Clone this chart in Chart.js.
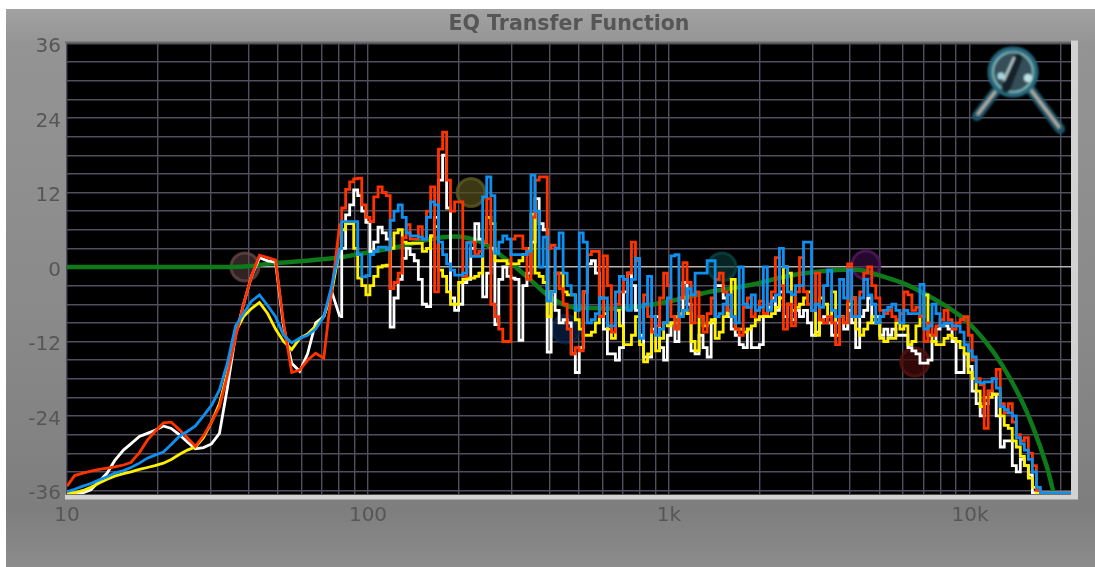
<!DOCTYPE html>
<html>
<head>
<meta charset="utf-8">
<title>EQ Transfer Function</title>
<script src="https://cdn.jsdelivr.net/npm/chart.js@4"></script>
<style>
  html, body { margin: 0; padding: 0; background: #fff; overflow: hidden; }
  #wrap { position: relative; width: 1095px; height: 567px; }
  #panel { position: absolute; left: 6px; top: 9px; right: 0; bottom: 0;
    background: linear-gradient(#a2a2a2 0, #949494 35px, #8a8a8a 300px, #7e7e7e 500px, #8c8c8c 100%); }
  #c { position: absolute; left: 0; top: 0; filter: blur(0.6px); }
  #lens { position: absolute; left: 960px; top: 40px; }
</style>
</head>
<body>
<div id="wrap">
  <div id="panel"></div>
  <canvas id="c" width="1095" height="567"></canvas>
  <svg id="lens" width="120" height="105" viewBox="960 40 120 105">
    <defs><filter id="soft"><feGaussianBlur stdDeviation="1.3"/></filter></defs>
    <g filter="url(#soft)" fill="none" stroke-linecap="round">
      <path d="M995 92 L977 116 M1031 90 L1060 129" stroke="#1f5468" stroke-width="10"/>
      <path d="M995 92 L978 114 M1031 90 L1059 127" stroke="#b0ada3" stroke-width="3"/>
      <circle cx="1013" cy="72" r="23" stroke="#26677e" stroke-width="5"/>
      <circle cx="1013" cy="72" r="20" fill="#35505a" stroke="#8ec6c6" stroke-width="1.6"/>
      <path d="M1006 88 L1018 58" stroke="#16242a" stroke-width="9"/>
      <path d="M1004 80 L1014 58" stroke="#bcd0d2" stroke-width="2.2"/>
      <circle cx="1028" cy="78" r="4" fill="#bfe4e6" stroke="none"/>
      <circle cx="1001" cy="76" r="3.5" fill="#a8d6dc" stroke="none"/>
    </g>
  </svg>
</div>
<script>
const hz = [
  10, 10.6, 11.3, 12, 12.8, 13.6, 14.4, 15.4, 16.3, 17.4,
  18.5, 19.6, 20.9, 22.2, 23.6, 25.1, 26.7, 28.4, 30.2, 32.1,
  34.1, 36.3, 38.6, 41, 43.6, 46.4, 49.3, 52.4, 55.8, 59.3,
  63, 67, 71.3, 75.8, 80.6,
  83, 85.6, 88.3, 91, 93.9, 96.8, 100, 103, 106, 110,
  113, 117, 120, 124, 128, 132, 136, 140, 145, 149,
  154, 159, 164, 169, 174, 180, 185, 191, 197, 203,
  210, 216, 223, 230, 237, 244, 252, 260, 268, 276,
  285, 294, 303, 313, 322, 332, 343, 353, 365, 376,
  388, 400, 412, 425, 438, 452, 466, 481, 496, 511,
  527, 544, 561, 578, 596, 615, 634, 654, 674, 695,
  717, 739, 762, 786, 811, 836, 862, 889, 917, 945,
  975, 1000, 1031, 1063, 1096, 1131, 1166, 1202, 1240, 1278,
  1318, 1360, 1402, 1446, 1491, 1537, 1585, 1635, 1686, 1738,
  1793, 1849, 1906, 1966, 2027, 2090, 2155, 2223, 2292, 2363,
  2437, 2513, 2592, 2672, 2756, 2842, 2930, 3022, 3116, 3213,
  3313, 3417, 3523, 3633, 3746, 3863, 3984, 4108, 4236, 4369,
  4505, 4645, 4790, 4940, 5094, 5253, 5417, 5586, 5760, 5940,
  6125, 6316, 6513, 6716, 6926, 7142, 7365, 7594, 7831, 8075,
  8327, 8587, 8855, 9131, 9416, 9709, 10012, 10324, 10646, 10979,
  11321, 11674, 12038, 12414, 12801, 13200, 13612, 14037, 14475, 14926,
  15392, 15872, 16367, 16878,
  17400, 21660
];

const redDb = [
  -35.3, -33.6, -33.2, -32.9, -32.6, -32.4, -32.2, -31.9, -31.5, -29.9,
  -27.9, -26.5, -25.1, -25, -26.2, -27.5, -28.9, -27.2, -25, -22.5,
  -17.5, -11.3, -6, -1.5, 1.9, 1.5, 1.1, -9, -17, -16.6,
  -15, -13.9, -14.7, -3.7, 7,
  9.5, 12.5, 13.7, 14.2, 14.3, 10, 8, 7.3, 11.3, 12.9,
  12, 11.5, -3.5, -2.5, -1, 4.7, 6.8, 4.5, 4.5, 6.5,
  4.5, 9, 12.9, -4, 19, 21.7, 14, 9, 10.5, 10.5,
  -1.5, 4, 4, 2, 2.5, 4, 11, -6, -8, -10,
  -12, -12, 4.5, 5, 5, 3, -2, 8, 14, 14.5,
  14.5, 3, 3.5, -1, -3.5, -6, -10, -14, -13, -13.5,
  -4, 2, 2.5, 2.5, -8, 1.8, -3, -10.5, -6, -4,
  -2, -1, 4, 1, -9, -4.5, -8, -10.5, -9.5, -5,
  -1, -3, -8, -10, -5, 0.7, -2.5, -9, -4, -8,
  -10.5, -7.5, -5, -2, -1, -4, -7, -8, -10, -11,
  -6.5, -5, -8, -7, -5.5, -7.5, -6, -4, 1.5, -3,
  -10, -6, -9.5, -4, 1.5, -4, -6, -7, -1, -8.5,
  -9, -8, -9, -12.5, -8, -9, 0.5, -5, -8, -4,
  -1, 0, -3, -5, -7, -7.5, -7, -8, -8.5, -7.5,
  -4, -4.5, -7, -6.5, -8, -12, -9, -11, -9.5, -8.5,
  -7, -8.5, -10, -9, -8.5, -8, -11, -15, -18, -19,
  -26, -20, -18, -16.5, -22, -23.5, -22, -25, -27, -28,
  -27.5, -30, -32, -36,
  -36.4, -36.4
];

const whiteDb = [
  -36.4, -36.4, -36.4, -35.9, -34.5, -33.2, -31.2, -29.5, -28.5, -27.3,
  -26.8, -26.3, -25.6, -26, -27, -28.2, -29.3, -29.1, -28.5, -26.8,
  -19.5, -11, -6, -1.5, 1.5, 1, 0.8, -9.5, -15.5, -16.8,
  -14, -9, -8, -4, -8,
  3, 8.4, 10, 12.4, 11.5, 9, 7.2, 2.5, 4, 6.4,
  5.5, 4.5, -9.7, -5, -2, 1.4, 3, 2, 1, -2,
  -6, -6.4, 5, 8, 14, 18, 9.5, -5, -7, -6,
  -2.5, -2, 3, 7, 4.5, -4.8, -1, 3, -9.3, -2,
  0, -1.5, -1.8, -2, -11.8, -3, -1, 4, 11, 7,
  6, -13.7, -4, -7, -9, -8.5, -9, -14, -17, -13,
  -4, 0.5, 1, -1, -5, -10, -14, -14, -15, -13,
  -4, -1, -3, -7, -11, -14.5, -14.5, -10, -8, -13,
  -15, -11, -9, -12, -8, -2.5, -6, -13.5, -14, -11,
  -13, -14.5, -9, -3, -3, -5, -8, -10, -11, -12.5,
  -13, -10, -13, -13, -12.5, -8, -6.5, -5, -7, -4,
  -8, -6, -8.5, -7, -8, -7, -9, -11, -10.5, -9,
  -8, -9, -11, -9, -8, -10, -7, -9, -13, -8,
  -7, -5, -9, -8, -11, -10, -11, -10, -11, -11,
  -11, -13, -13.5, -14, -15.5, -15.5, -15, -12, -10, -9.5,
  -9.5, -10, -12, -17, -17, -14, -16, -20, -22, -24,
  -22, -20, -20.5, -24, -29, -28, -28, -32, -33, -31,
  -32, -33.5, -36.4, -36.4,
  -36.4, -36.4
];

const yellowDb = [
  -36.4, -36.4, -36, -35.5, -34.8, -34.2, -33.7, -33.3, -33, -32.6,
  -32.3, -32, -31.6, -31, -30.2, -29.5, -29, -27.5, -25, -22,
  -17, -10.5, -8, -6.7, -5.7, -7.5, -10, -12, -13.3, -11.5,
  -10.8, -9.5, -8, -4, 3,
  6, 7, 7, 3, -1.8, -3, -4.5, -3, -1.5, 0,
  0.2, 0.3, 3, 5.5, 6, 4, 3.8, 3.8, 3.8, 3.8,
  2.5, 3, 5, 6.5, -0.5, -1.5, -4, -6, -6, -2.5,
  -2, -1.8, -1.8, -1.5, -1, 4, 8, 7, 1, 1,
  1, 0.5, 0.5, 0.5, 1, 2, 3, 8.5, -1, -1.5,
  -2.5, -8, -4, -1, -1, -4, -4.5, -4.5, -8.5, -10,
  -11, -11, -10.5, -9, -8, -7.5, -10, -11.5, -7, -9.5,
  -12.5, -12.5, -11, -8, -12.5, -15.3, -14, -10.5, -13.5, -11.5,
  -9, -9.5, -9, -8, -7.5, -7, -7.5, -12, -13.5, -8,
  -9.5, -9, -8.5, -11.5, -10.5, -8, -7.5, -2, -10, -10,
  -10.5, -10, -9.5, -8.5, -8, -8, -8, -7.5, -6.5, -5,
  0, -1, -7, -6.5, -6, -5, -4, -7, -11, -5,
  -6, -8, -4, -11, -8, -9, -6, -5, -10, -11,
  -10, -9, -8, -9, -11.5, -12, -11.5, -11.5, -9, -10,
  -9.5, -12.5, -12, -9.5, -8, -4.5, -11, -12, -12.5, -12.5,
  -11.5, -11, -11.5, -12, -13, -14, -17, -18, -20, -22.5,
  -21, -21, -20.5, -20.5, -24, -25.5, -26, -28, -29, -30.5,
  -32, -34, -35.5, -36.4,
  -36.4, -36.4
];

const blueDb = [
  -36.2, -35.8, -35.3, -34.9, -34.3, -33.8, -33.2, -32.8, -32.3, -31.6,
  -30.8, -30.3, -29.8, -28.6, -27.3, -26.5, -25.6, -24, -22.3, -19.8,
  -15.5, -9.5, -7.5, -5.5, -4.5, -6.2, -8, -11, -12.2, -11.5,
  -11, -10, -8, -3, 3,
  7.3, 7.3, 7.3, 7.3, 2, -1.6, -1.4, 2, 2.5, 3.2,
  3.2, 2.8, 7.5, 9, 10, 8, 5.5, 5, 5, 4.8,
  4.5, 8, 10.5, 10, 4, 2, 0.5, -0.5, -1.3, -1.3,
  -1, 3.9, 1.7, 1.7, 1.7, 11.3, 14.5, 11.5, 2.2, 4,
  5, 4.5, 2, 2, 2, 2, 2.5, 14.8, 9, 0,
  4.8, -5.5, -4, 3, 5.5, -1, -3, -4.5, -7, 5.5,
  4, -9, -8.5, -7.5, -5, -5, -9.5, -9.5, -4, -1.5,
  -2, -7, -2, 1.4, -11.5, -6, -1.5, -8, -11, -10,
  -9, -5, 1.8, 2, -8, -7, -3.5, -4.5, -1, -1,
  -1, 1, 1, -8, -7.5, -6, -4.5, -8, -9, 0,
  -6, -6.5, -4.5, -7, -6.5, 0, -7, -5.5, -4.5, 3,
  0, -4, -4.5, -3, -3, 4, 4, -7, -6, -6.5,
  -3, -0.5, -7, -8, -2, -5, -0.5, -8, -8, -5,
  -2, -4.5, -6, -9, -8, -7, -6.5, -6, -7, -9,
  -7, -7.5, -7.5, -7.5, -2.8, -10, -9.5, -6, -7.5, -9.5,
  -9, -9, -9.5, -9.5, -10.5, -12.5, -13.5, -14.5, -18.5, -18.7,
  -18.5, -18.5, -18, -19.5, -22.5, -23, -23.5, -24, -27.5, -28.5,
  -29.5, -31, -33, -35.5,
  -36.4, -36.4
];

const eqHz = [10, 34.8, 40, 46.2, 76.5, 96.1, 128, 177, 230, 281, 345, 402, 469, 546, 725, 1007, 1368, 1858, 2582, 3614, 4313, 5028, 5989, 7197, 8385, 9781, 11385, 12871, 14671, 16200, 18020, 18880, 19100];
const eqDb = [0, 0, 0.1, 0.5, 1.4, 2.2, 3.3, 4.8, 4.3, 1.6, -2, -4.8, -6.4, -6.6, -6.6, -5.5, -4, -2.9, -1.3, -0.5, -0.5, -1.4, -2.6, -4.5, -6.4, -8.8, -12.3, -16, -21, -25.8, -32.2, -36, -36.6];

const nodeHz = [39, 220, 455, 1500, 4510, 6560];
const nodeDb = [0, 12, -10, 0, 0.3, -15.3];
const nodeFill = ['rgba(100,72,72,0.5)', 'rgba(85,80,28,0.7)', 'rgba(10,35,80,0.65)', 'rgba(8,60,60,0.6)', 'rgba(50,12,60,0.75)', 'rgba(65,10,10,0.75)'];
const nodeEdge = ['rgba(110,75,75,0.7)', 'rgba(100,95,35,0.7)', 'rgba(12,42,90,0.6)', 'rgba(12,72,72,0.7)', 'rgba(80,22,92,0.85)', 'rgba(85,18,18,0.85)'];

const xTicks = [10, 20, 30, 40, 50, 60, 70, 80, 90, 100, 200, 300, 400, 500, 600, 700, 800, 900, 1000, 2000, 3000, 4000, 5000, 6000, 7000, 8000, 9000, 10000, 20000];
const xLabels = { 10: '10', 100: '100', 1000: '1k', 10000: '10k' };
const yTicks = [-36, -33, -30, -27, -24, -21, -18, -15, -12, -9, -6, -3, 0, 3, 6, 9, 12, 15, 18, 21, 24, 27, 30, 33, 36];
const yLabelled = [-36, -24, -12, 0, 12, 24, 36];

const lowCount = 35;

function points(xs, ys) {
  return xs.map((x, i) => ({ x: x, y: ys[i] }));
}

// low end of each trace is plain line, above that it is stair steps
function trace(name, values, colour, order) {
  const all = points(hz, values);
  return [
    { label: name + ' low', data: all.slice(0, lowCount), borderColor: colour, borderWidth: 2.8, pointRadius: 0, order: order },
    { label: name, data: all.slice(lowCount - 1), borderColor: colour, borderWidth: 2.8, pointRadius: 0, stepped: 'middle', order: order }
  ];
}

const frame = {
  id: 'frame',
  beforeDraw(chart) {
    const { ctx, chartArea: a } = chart;
    ctx.save();
    ctx.fillStyle = '#6a6a6e';
    ctx.fillRect(a.left - 2, a.top - 2, a.width + 4, 2);
    ctx.fillStyle = '#d2d2d2';
    ctx.fillRect(a.right, a.top - 3, 7, a.height + 7);
    ctx.fillRect(a.left - 2, a.bottom, a.width + 9, 5);
    ctx.fillStyle = '#000';
    ctx.fillRect(a.left, a.top, a.width, a.height);
    ctx.restore();
  }
};

new Chart(document.getElementById('c'), {
  type: 'line',
  data: {
    datasets: [
      ...trace('Blue', blueDb, '#0f8ff0', 1),
      ...trace('Red', redDb, '#ff3300', 2),
      ...trace('Yellow', yellowDb, '#fff000', 3),
      ...trace('White', whiteDb, '#ffffff', 4),
      { label: 'EQ', data: points(eqHz, eqDb), borderColor: '#0e7a1c', borderWidth: 4.5, pointRadius: 0, tension: 0.4, order: 5 },
      { label: 'Nodes', data: points(nodeHz, nodeDb), showLine: false, pointRadius: 14, pointBorderWidth: 3, pointBackgroundColor: nodeFill, pointBorderColor: nodeEdge, order: 6 }
    ]
  },
  options: {
    responsive: false,
    animation: false,
    layout: { padding: { right: 24, top: 0, left: 0, bottom: 0 } },
    plugins: {
      legend: { display: false },
      tooltip: { enabled: false },
      title: {
        display: true,
        text: 'EQ Transfer Function',
        fullSize: false,
        color: '#565656',
        font: { family: 'DejaVu Sans', size: 20.5, weight: 'bold' },
        padding: { top: 12.5, bottom: 6.4 }
      }
    },
    scales: {
      x: {
        type: 'logarithmic',
        min: 10,
        max: 21660,
        afterFit(scale) { scale.height = 72.5; },
        afterBuildTicks(scale) { scale.ticks = xTicks.map(v => ({ value: v })); },
        grid: { color: '#514f5e', lineWidth: 1.4, drawTicks: false },
        border: { display: false },
        ticks: {
          autoSkip: false,
          maxRotation: 0,
          padding: 9,
          color: '#565656',
          font: { family: 'DejaVu Sans', size: 20 },
          callback: v => xLabels[v] || ''
        }
      },
      y: {
        type: 'linear',
        min: -36.65,
        max: 36,
        afterFit(scale) { scale.width = 67; },
        afterBuildTicks(scale) { scale.ticks = yTicks.map(v => ({ value: v })); },
        grid: {
          color: c => c.tick.value === 0 ? '#b4b4b4' : '#514f5e',
          lineWidth: 1.4,
          drawTicks: false
        },
        border: { display: false },
        ticks: {
          autoSkip: false,
          padding: 6,
          labelOffset: 3.5,
          color: '#565656',
          font: { family: 'DejaVu Sans', size: 20 },
          callback: v => yLabelled.includes(v) ? String(v) : ''
        }
      }
    }
  },
  plugins: [frame]
});
</script>
</body>
</html>
